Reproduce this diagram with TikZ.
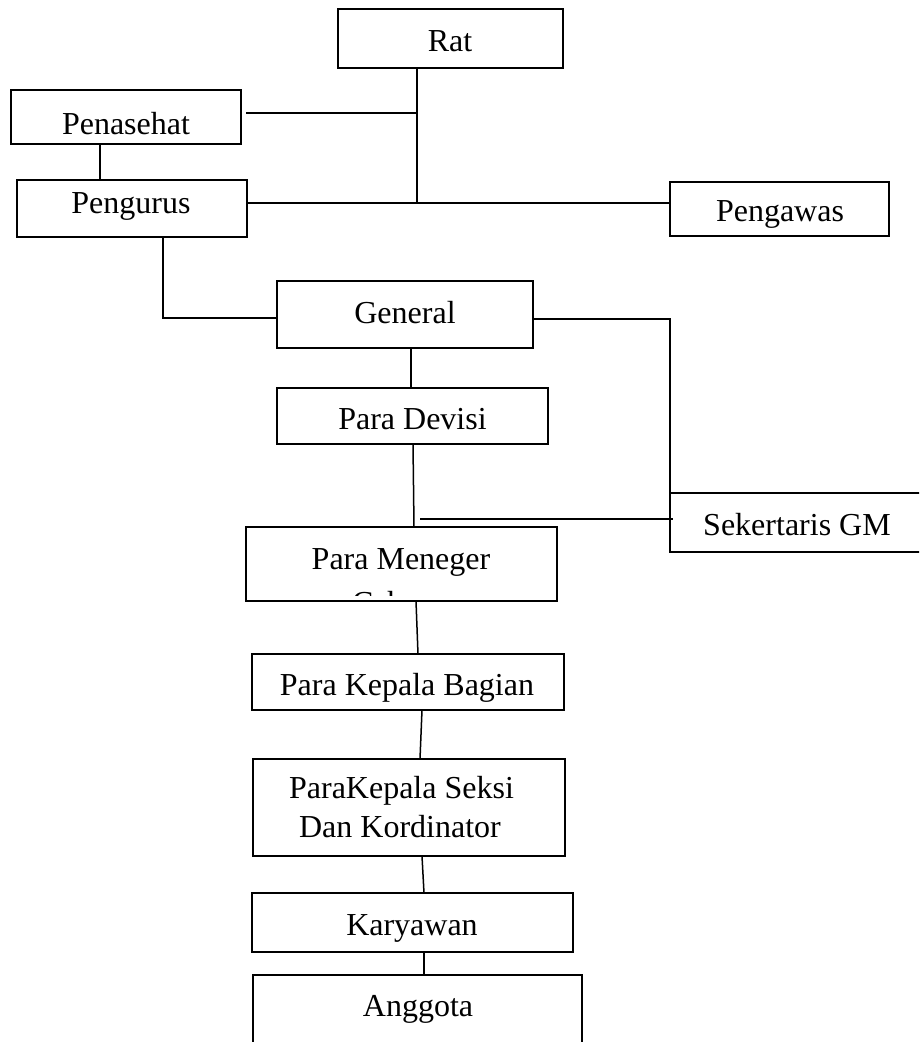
\documentclass[tikz,border=0pt]{standalone}
\usepackage{fontspec}
\setmainfont{Liberation Serif}
\begin{document}
\begin{tikzpicture}[x=1pt,y=-1pt,
  box/.style={draw,line width=1.8pt,inner sep=0pt,outer sep=0pt,rectangle},
  lbl/.style={anchor=base,inner sep=0pt,font=\fontsize{32}{38}\selectfont},
  conn/.style={line width=1.5pt}]
\useasboundingbox (0,0) rectangle (919,1042);
\clip (0,0) rectangle (919,1042);
% boxes
\node[box,minimum width=225pt,minimum height=59pt] (rat) at (450.5,38.5) {};
\node[box,minimum width=230pt,minimum height=54pt] (pen) at (126,117) {};
\node[box,minimum width=230pt,minimum height=57pt] (peng) at (132,208.5) {};
\node[box,minimum width=219pt,minimum height=54pt] (paw) at (779.5,209) {};
\node[box,minimum width=256pt,minimum height=67pt] (gen) at (405,314.5) {};
\node[box,minimum width=271pt,minimum height=56pt] (dev) at (412.5,416) {};
\node[box,minimum width=255pt,minimum height=59pt] (sek) at (797.5,522.5) {};
\node[box,minimum width=311pt,minimum height=74pt] (men) at (401.5,564) {};
\node[box,minimum width=312pt,minimum height=56pt] (pkb) at (408,682) {};
\node[box,minimum width=312pt,minimum height=97pt] (pks) at (409,807.5) {};
\node[box,minimum width=321pt,minimum height=59pt] (kar) at (412.5,922.5) {};
\node[box,minimum width=329pt,minimum height=85pt] (ang) at (417.5,1017.5) {};
% labels
\node[lbl] (ratt) at (450,51) {Rat};
\node[lbl] (pent) at (126,134) {Penasehat};
\node[lbl] (pengt) at (131,213) {Pengurus};
\node[lbl] (pawt) at (780,221) {Pengawas};
\node[lbl] (gent) at (405,323) {General};
\node[lbl] (devt) at (412.5,429) {Para Devisi};
\node[lbl] (sekt) at (797,535) {Sekertaris GM};
\node[lbl] (ment) at (401,569) {Para Meneger};
\begin{scope}
\clip (246,527) rectangle (557,595);
\node[lbl] (ment2) at (401,613) {Cabang};
\end{scope}
\node[lbl] (pkbt) at (407,695) {Para Kepala Bagian};
\node[lbl] (pkst1) at (401.5,798) {ParaKepala Seksi};
\node[lbl] (pkst2) at (400,837) {Dan Kordinator};
\node[lbl] (kart) at (412,935) {Karyawan};
\node[lbl] (angt) at (418,1016) {Anggota};
% junction coordinates
\coordinate (j1) at (417,203);
\coordinate (j2) at (417,113);
\coordinate (j3) at (163,318);
\coordinate (j4) at (670,319);
\coordinate (j5) at (420,519);
\coordinate (j6) at (673,519);
% connectors
\draw[conn] (rat.south -| j1) -- (j1);
\draw[conn] ([xshift=5pt]pen.east |- j2) -- (j2);
\draw[conn] (pen.south -| 100,0) -- (peng.north -| 100,0);
\draw[conn] (peng.east |- j1) -- (paw.west |- j1);
\draw[conn] (peng.south -| j3) -- (j3) -- (gen.west |- j3);
\draw[conn] (gen.east |- j4) -- (j4) -- (sek.north west);
\draw[conn] (gen.south -| 411,0) -- (dev.north -| 411,0);
\draw[conn] (dev.south -| 413,0) -- (men.north -| 414,0);
\draw[conn] (j5) -- (j6);
\draw[conn] (men.south -| 416,0) -- (pkb.north -| 418,0);
\draw[conn] (pkb.south -| 422,0) -- (pks.north -| 420,0);
\draw[conn] (pks.south -| 422,0) -- (kar.north -| 424,0);
\draw[conn] (kar.south -| 424,0) -- (ang.north -| 424,0);
\end{tikzpicture}
\end{document}
